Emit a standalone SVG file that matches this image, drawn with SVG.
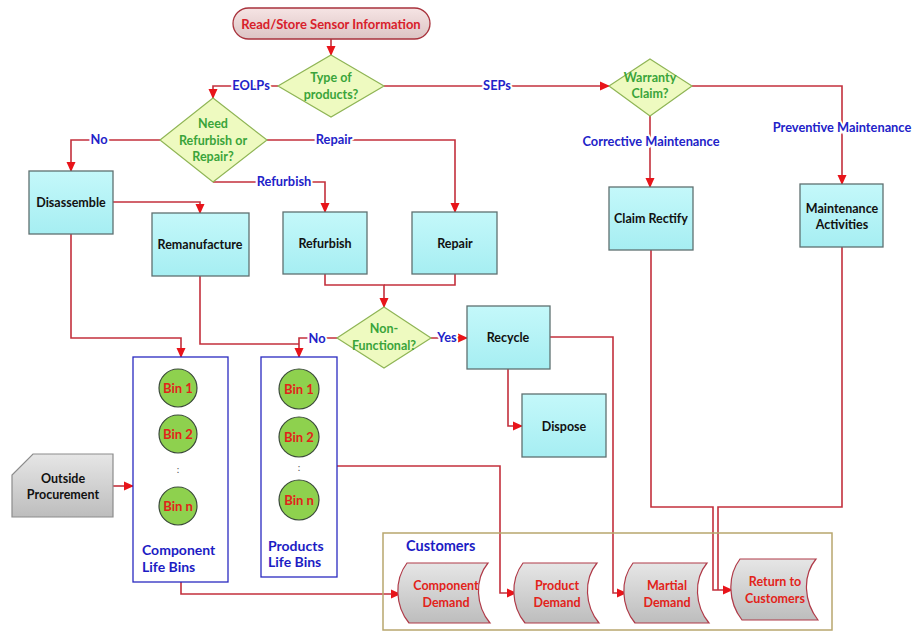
<svg xmlns="http://www.w3.org/2000/svg" width="915" height="631" viewBox="0 0 915 631">
<defs>
  <linearGradient id="gCyan" x1="0" y1="0" x2="0" y2="1">
    <stop offset="0" stop-color="#c4f8fa"/><stop offset="1" stop-color="#a6eef2"/>
  </linearGradient>
  <linearGradient id="gGray" x1="0" y1="0" x2="0" y2="1">
    <stop offset="0" stop-color="#e6e6e6"/><stop offset="1" stop-color="#bdbdbd"/>
  </linearGradient>
  <linearGradient id="gPink" x1="0" y1="0" x2="0" y2="1">
    <stop offset="0" stop-color="#f6e4e4"/><stop offset="1" stop-color="#dcc4c4"/>
  </linearGradient>
  <marker id="arr" markerUnits="userSpaceOnUse" markerWidth="10" markerHeight="10" viewBox="0 0 10 10" refX="9" refY="5" orient="auto">
    <path d="M0,0.5 L10,5 L0,9.5 Z" fill="#e8141a"/>
  </marker>
  <style>
    text { font-family: Lato, "Open Sans", "Liberation Sans", sans-serif; font-weight: bold; }
    .box { fill: url(#gCyan); stroke: #5f7070; stroke-width: 1.3; }
    .bt { font-size: 12.5px; fill: #111; text-anchor: middle; }
    .dia { fill: #eefac0; stroke: #8fb555; stroke-width: 1.2; }
    .dt { font-size: 12.5px; fill: #3aa43a; text-anchor: middle; }
    .lbl { font-size: 12.8px; fill: #2222c8; text-anchor: middle; stroke: #fff; stroke-width: 4; paint-order: stroke; }
    .con { fill: none; stroke: #c3303c; stroke-width: 1.6; }
    .bin { fill: #8ed14e; stroke: #3b4a3b; stroke-width: 1.2; }
    .bint { font-size: 13px; fill: #e2231a; text-anchor: middle; }
    .binbox { fill: #fff; stroke: #2a2ac0; stroke-width: 1.3; }
    .blue { font-size: 14px; fill: #1c1cc4; }
    .dem { fill: url(#gGray); stroke: #b03a48; stroke-width: 1.2; }
    .demt { font-size: 12.5px; fill: #e2231a; text-anchor: middle; }
    .dots { font-size: 10px; fill: #555; text-anchor: middle; font-weight: normal; }
  </style>
</defs>
<rect width="915" height="631" fill="#fff"/>

<g id="connectors">
  <path class="con" d="M331,39 V55" marker-end="url(#arr)"/>
  <path class="con" d="M278,86 H213 V98" marker-end="url(#arr)"/>
  <path class="con" d="M384,86 H609" marker-end="url(#arr)"/>
  <path class="con" d="M160,140 H71 V171" marker-end="url(#arr)"/>
  <path class="con" d="M267,140 H455 V212" marker-end="url(#arr)"/>
  <path class="con" d="M213,182 H325 V212" marker-end="url(#arr)"/>
  <path class="con" d="M113,202 H200 V213" marker-end="url(#arr)"/>
  <path class="con" d="M325,274 V285 H384 V307" marker-end="url(#arr)"/>
  <path class="con" d="M455,274 V285 H384"/>
  <path class="con" d="M71,234 V338 H181 V357" marker-end="url(#arr)"/>
  <path class="con" d="M200,276 V344 H299"/>
  <path class="con" d="M337,338 H299 V357" marker-end="url(#arr)"/>
  <path class="con" d="M431,338 H467" marker-end="url(#arr)"/>
  <path class="con" d="M508,369 V426 H522" marker-end="url(#arr)"/>
  <path class="con" d="M550,337 H613 V593 H626" marker-end="url(#arr)"/>
  <path class="con" d="M337,466 H500 V593 H516" marker-end="url(#arr)"/>
  <path class="con" d="M113,486 H133" marker-end="url(#arr)"/>
  <path class="con" d="M181,582 V594 H400" marker-end="url(#arr)"/>
  <path class="con" d="M650,116 V187" marker-end="url(#arr)"/>
  <path class="con" d="M692,86 H842 V184" marker-end="url(#arr)"/>
  <path class="con" d="M651,250 V507 H713 V590 H732" marker-end="url(#arr)"/>
  <path class="con" d="M842,247 V507 H718 V590"/>
  <text class="lbl" x="251" y="90">EOLPs</text>
  <text class="lbl" x="497" y="90">SEPs</text>
  <text class="lbl" x="99" y="144">No</text>
  <text class="lbl" x="334" y="144">Repair</text>
  <text class="lbl" x="284" y="186">Refurbish</text>
  <text class="lbl" x="651" y="146">Corrective Maintenance</text>
  <text class="lbl" x="842" y="132">Preventive Maintenance</text>
  <text class="lbl" x="317" y="343">No</text>
  <text class="lbl" x="447" y="342">Yes</text>
</g>

<g id="read-store">
  <rect x="233" y="8" width="197" height="31" rx="15.5" fill="url(#gPink)" stroke="#a8323c" stroke-width="1.3"/>
  <text x="331" y="28.5" font-size="13" fill="#d8202a" text-anchor="middle">Read/Store Sensor Information</text>
</g>

<g id="type-of-products">
  <polygon class="dia" points="331,55 384,86 331,117 278,86"/>
  <text class="dt" x="331" y="82">Type of</text>
  <text class="dt" x="331" y="99">products?</text>
</g>

<g id="need-refurbish">
  <polygon class="dia" points="213,98 267,140 213,182 160,140"/>
  <text class="dt" x="213" y="128">Need</text>
  <text class="dt" x="213" y="144.5">Refurbish or</text>
  <text class="dt" x="213" y="161">Repair?</text>
</g>

<g id="warranty-claim">
  <polygon class="dia" points="650,59 692,86 650,116 609,86"/>
  <text class="dt" x="650" y="82">Warranty</text>
  <text class="dt" x="650" y="98">Claim?</text>
</g>

<g id="non-functional">
  <polygon class="dia" points="384,307 431,338 384,368 337,338"/>
  <text class="dt" x="384" y="333">Non-</text>
  <text class="dt" x="384" y="349.5">Functional?</text>
</g>

<g id="disassemble">
  <rect class="box" x="29" y="171" width="84" height="63"/>
  <text class="bt" x="71" y="206.5">Disassemble</text>
</g>
<g id="remanufacture">
  <rect class="box" x="152" y="213" width="97" height="63"/>
  <text class="bt" x="200" y="249">Remanufacture</text>
</g>
<g id="refurbish">
  <rect class="box" x="283" y="212" width="84" height="62"/>
  <text class="bt" x="325" y="247.5">Refurbish</text>
</g>
<g id="repair">
  <rect class="box" x="412" y="212" width="85" height="62"/>
  <text class="bt" x="455" y="247.5">Repair</text>
</g>
<g id="recycle">
  <rect class="box" x="467" y="306" width="83" height="63"/>
  <text class="bt" x="508" y="342">Recycle</text>
</g>
<g id="dispose">
  <rect class="box" x="522" y="394" width="84" height="63"/>
  <text class="bt" x="564" y="430.5">Dispose</text>
</g>
<g id="claim-rectify">
  <rect class="box" x="609" y="187" width="84" height="63"/>
  <text class="bt" x="651" y="223">Claim Rectify</text>
</g>
<g id="maintenance-activities">
  <rect class="box" x="800" y="184" width="83" height="63"/>
  <text class="bt" x="842" y="212.5">Maintenance</text>
  <text class="bt" x="842" y="229">Activities</text>
</g>

<g id="component-life-bins">
  <rect class="binbox" x="133" y="357" width="95" height="225"/>
  <circle class="bin" cx="178" cy="388" r="19"/>
  <text class="bint" x="178" y="392.5">Bin 1</text>
  <circle class="bin" cx="178" cy="434" r="19"/>
  <text class="bint" x="178" y="438.5">Bin 2</text>
  <text class="dots" x="178" y="473">:</text>
  <circle class="bin" cx="178" cy="506" r="19"/>
  <text class="bint" x="178" y="510.5">Bin n</text>
  <text class="blue" x="142" y="555">Component</text>
  <text class="blue" x="142" y="572">Life Bins</text>
</g>

<g id="products-life-bins">
  <rect class="binbox" x="261" y="357" width="76" height="220"/>
  <circle class="bin" cx="299" cy="389" r="20"/>
  <text class="bint" x="299" y="393.5">Bin 1</text>
  <circle class="bin" cx="299" cy="437" r="20"/>
  <text class="bint" x="299" y="441.5">Bin 2</text>
  <text class="dots" x="299" y="471">:</text>
  <circle class="bin" cx="299" cy="500" r="20"/>
  <text class="bint" x="299" y="504.5">Bin n</text>
  <text class="blue" x="268" y="551">Products</text>
  <text class="blue" x="268" y="567">Life Bins</text>
</g>

<g id="outside-procurement">
  <polygon points="33,454 113,454 113,517 12,517 12,475" fill="url(#gGray)" stroke="#8c8c8c" stroke-width="1.2"/>
  <text class="bt" x="63" y="482.5">Outside</text>
  <text class="bt" x="63" y="499">Procurement</text>
</g>

<g id="customers">
  <rect x="383" y="533" width="449" height="97" fill="none" stroke="#b8a66e" stroke-width="1.5"/>
  <text x="406" y="551" font-size="14.5" fill="#1c1cc4">Customers</text>
</g>

<g id="component-demand">
  <path class="dem" d="M407,563 H488 C474,580 476,606 490,623 H409 C395,606 394,580 407,563 Z"/>
  <text class="demt" x="446" y="590">Component</text>
  <text class="demt" x="446" y="607">Demand</text>
</g>
<g id="product-demand">
  <path class="dem" d="M523,563 H597 C583,580 585,606 599,623 H525 C511,606 510,580 523,563 Z"/>
  <text class="demt" x="557" y="590">Product</text>
  <text class="demt" x="557" y="607">Demand</text>
</g>
<g id="martial-demand">
  <path class="dem" d="M633,563 H707 C693,580 695,606 709,623 H635 C621,606 620,580 633,563 Z"/>
  <text class="demt" x="667" y="590">Martial</text>
  <text class="demt" x="667" y="607">Demand</text>
</g>
<g id="return-to-customers">
  <path class="dem" d="M740,559 H816 C802,576 804,602 818,620 H742 C728,602 727,576 740,559 Z"/>
  <text class="demt" x="775" y="586">Return to</text>
  <text class="demt" x="775" y="603">Customers</text>
</g>
</svg>
